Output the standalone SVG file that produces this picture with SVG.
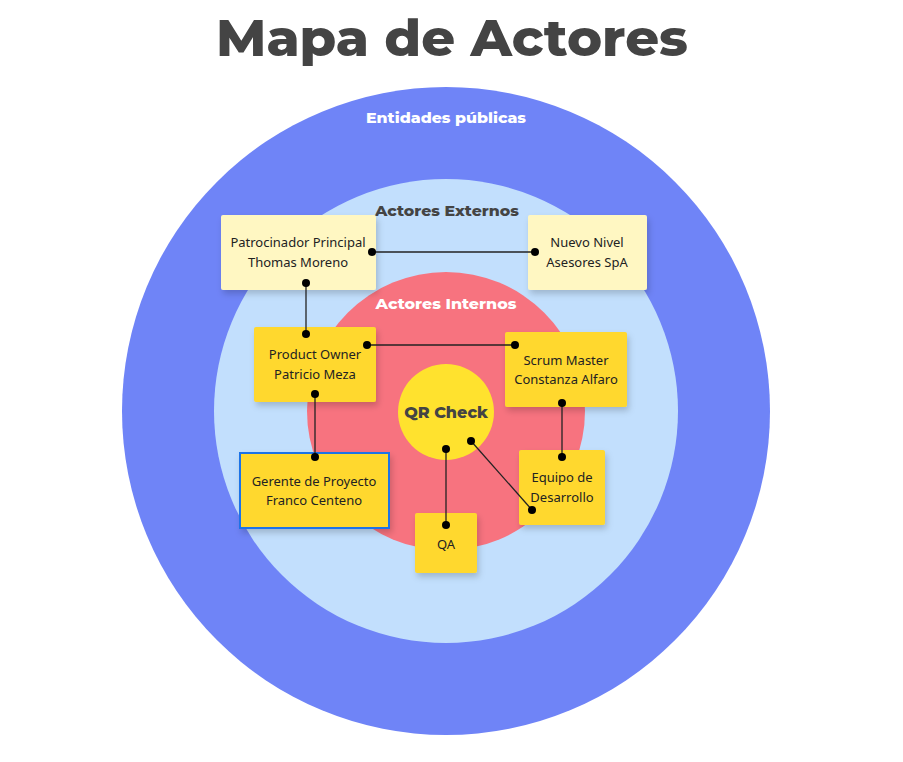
<svg xmlns="http://www.w3.org/2000/svg" width="903" height="762" viewBox="0 0 903 762">
<defs>
<filter id="sh" x="-20%" y="-20%" width="150%" height="150%">
<feDropShadow dx="2" dy="4" stdDeviation="3" flood-color="#000" flood-opacity="0.18"/>
</filter>
<style>
.ring-label{font-family:Montserrat,"Open Sans","DejaVu Sans",sans-serif;font-weight:800;font-size:15px;text-anchor:middle}
.note text{font-family:"Noto Sans","DejaVu Sans",sans-serif;font-size:13px;fill:#222;text-anchor:middle}
.light{fill:#FFF7C2}
.dark{fill:#FFD82E}
.conn line{stroke:#222;stroke-width:1.3}
.conn circle{fill:#000}
</style>
</defs>
<rect width="903" height="762" fill="#fff"/>
<text x="452" y="56" font-family="Montserrat,'Open Sans','DejaVu Sans',sans-serif" font-weight="800" font-size="50" fill="#444" text-anchor="middle" textLength="472" lengthAdjust="spacingAndGlyphs">Mapa de Actores</text>

<g id="ring-entidades">
<circle cx="446" cy="411" r="324" fill="#6F84F7"/>
<text class="ring-label" x="446" y="123" fill="#fff" textLength="160" lengthAdjust="spacingAndGlyphs">Entidades públicas</text>
</g>
<g id="ring-externos">
<circle cx="446" cy="411" r="232" fill="#C2DFFD"/>
<text class="ring-label" x="447" y="216" fill="#444" textLength="144" lengthAdjust="spacingAndGlyphs">Actores Externos</text>
</g>
<g id="ring-internos">
<circle cx="446" cy="411" r="139" fill="#F7737F"/>
<text class="ring-label" x="446" y="309" fill="#fff" textLength="141" lengthAdjust="spacingAndGlyphs">Actores Internos</text>
</g>
<g id="qr-check">
<circle cx="446" cy="412" r="48" fill="#FFE22E"/>
<text x="446" y="418" font-family="Montserrat,'Open Sans','DejaVu Sans',sans-serif" font-weight="800" font-size="16" fill="#444" text-anchor="middle">QR Check</text>
</g>

<g id="patrocinador" class="note">
<rect class="light" x="221" y="215" width="155" height="75" rx="2" filter="url(#sh)"/>
<text x="298" y="247">Patrocinador Principal</text>
<text x="298" y="267">Thomas Moreno</text>
</g>
<g id="nuevo-nivel" class="note">
<rect class="light" x="528" y="215" width="119" height="75" rx="2" filter="url(#sh)"/>
<text x="587" y="247">Nuevo Nivel</text>
<text x="587" y="267">Asesores SpA</text>
</g>
<g id="product-owner" class="note">
<rect class="dark" x="254" y="327" width="122" height="75" rx="2" filter="url(#sh)"/>
<text x="315" y="359">Product Owner</text>
<text x="315" y="379">Patricio Meza</text>
</g>
<g id="scrum-master" class="note">
<rect class="dark" x="505" y="332" width="122" height="75" rx="2" filter="url(#sh)"/>
<text x="566" y="365">Scrum Master</text>
<text x="566" y="384">Constanza Alfaro</text>
</g>
<g id="gerente" class="note">
<rect class="dark" x="240" y="453" width="149" height="75" stroke="#1A73E8" stroke-width="2" filter="url(#sh)"/>
<text x="314" y="486">Gerente de Proyecto</text>
<text x="314" y="505">Franco Centeno</text>
</g>
<g id="equipo" class="note">
<rect class="dark" x="519" y="450" width="86" height="75" rx="2" filter="url(#sh)"/>
<text x="562" y="482">Equipo de</text>
<text x="562" y="502">Desarrollo</text>
</g>
<g id="qa" class="note">
<rect class="dark" x="415" y="513" width="62" height="60" rx="2" filter="url(#sh)"/>
<text x="446" y="549">QA</text>
</g>

<g id="connectors" class="conn">
<line x1="372" y1="252" x2="535" y2="252"/>
<line x1="306" y1="283" x2="306" y2="334"/>
<line x1="367" y1="345" x2="515" y2="345"/>
<line x1="315" y1="394" x2="315" y2="457"/>
<line x1="562" y1="403" x2="562" y2="457"/>
<line x1="446" y1="449" x2="446" y2="525" stroke="#6b2a2a" stroke-width="2"/>
<line x1="471" y1="441" x2="532" y2="510"/>
<circle cx="372" cy="252" r="4"/>
<circle cx="535" cy="252" r="4"/>
<circle cx="306" cy="283" r="4"/>
<circle cx="306" cy="334" r="4"/>
<circle cx="367" cy="345" r="4"/>
<circle cx="515" cy="345" r="4"/>
<circle cx="315" cy="394" r="4"/>
<circle cx="315" cy="457" r="4"/>
<circle cx="562" cy="403" r="4"/>
<circle cx="562" cy="457" r="4"/>
<circle cx="446" cy="449" r="4"/>
<circle cx="446" cy="525" r="4"/>
<circle cx="471" cy="441" r="4"/>
<circle cx="532" cy="510" r="4"/>
</g>
</svg>
